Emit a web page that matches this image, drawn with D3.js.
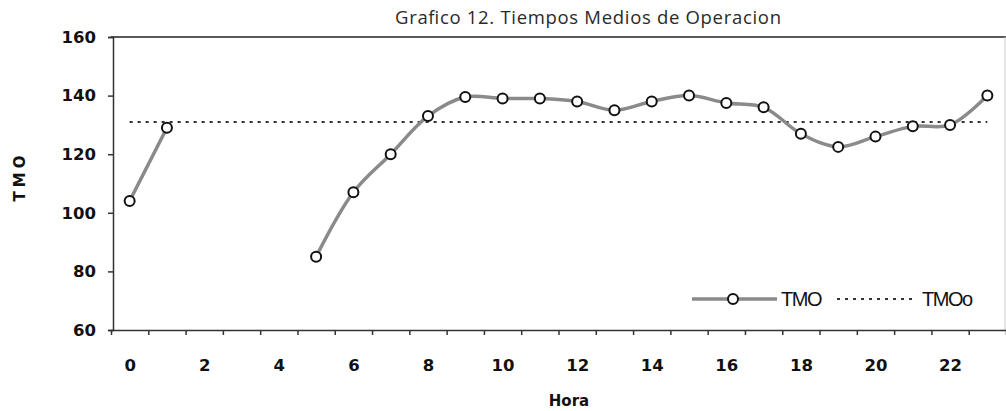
<!DOCTYPE html>
<html>
<head>
<meta charset="utf-8">
<script src="https://cdn.jsdelivr.net/npm/d3@7"></script>
<style>
  body { margin: 0; background: #fff; }
  svg { display: block; }
</style>
</head>
<body>
<div id="chart"></div>
<script>
const hours = [0, 1, 2, 3, 4, 5, 6, 7, 8, 9, 10, 11, 12, 13, 14, 15, 16, 17, 18, 19, 20, 21, 22, 23];
const tmo = [104, 129, null, null, null, 85, 107, 120, 133, 139.5, 139, 139, 138, 135, 138, 140, 137.5, 136, 127, 122.5, 126, 129.5, 130, 140];
const tmoObjetivo = 131;
const yTicks = [60, 80, 100, 120, 140, 160];
const xLabels = [0, 2, 4, 6, 8, 10, 12, 14, 16, 18, 20, 22];

const width = 1006, height = 411;
const margin = { top: 37, right: 0, bottom: 81, left: 111 };

const svg = d3.select('#chart').append('svg')
  .attr('width', width)
  .attr('height', height);

const x = d3.scaleLinear()
  .domain([-0.5, hours.length - 0.5])
  .range([margin.left, width - margin.right]);

const y = d3.scaleLinear()
  .domain([60, 160])
  .range([height - margin.bottom, margin.top]);

// title
svg.append('text')
  .attr('x', 588)
  .attr('y', 24)
  .attr('text-anchor', 'middle')
  .attr('font-family', 'Open Sans, DejaVu Sans, sans-serif')
  .attr('font-size', 18.5)
  .attr('textLength', 386)
  .attr('lengthAdjust', 'spacing')
  .attr('fill', '#2a2a2a')
  .text('Grafico 12. Tiempos Medios de Operacion');

// frame: top line and right edge
svg.append('line')
  .attr('x1', margin.left).attr('x2', width)
  .attr('y1', y(160)).attr('y2', y(160))
  .attr('stroke', '#222').attr('stroke-width', 1.5);
svg.append('line')
  .attr('x1', width - 1).attr('x2', width - 1)
  .attr('y1', y(160)).attr('y2', y(60))
  .attr('stroke', '#ccc').attr('stroke-width', 1);

// y axis
svg.append('g')
  .attr('transform', `translate(${margin.left + 2},0)`)
  .call(d3.axisLeft(y).tickValues(yTicks).tickSize(5).tickPadding(12))
  .call(g => g.selectAll('path, line').attr('stroke', '#333').attr('stroke-width', 1.5))
  .call(g => g.selectAll('text')
    .attr('font-family', 'DejaVu Sans, sans-serif')
    .attr('font-weight', 'bold')
    .attr('font-size', 16.5)
    .attr('fill', '#111'));

// x axis: ticks on category boundaries
svg.append('g')
  .attr('transform', `translate(0,${y(60)})`)
  .call(d3.axisBottom(x)
    .tickValues(d3.range(-0.5, hours.length, 1))
    .tickFormat('')
    .tickSize(5)
    .tickSizeOuter(0))
  .call(g => g.selectAll('path, line').attr('stroke', '#333').attr('stroke-width', 1.5));

svg.append('g')
  .attr('transform', `translate(0,${y(60)})`)
  .call(d3.axisBottom(x).tickValues(xLabels).tickSize(0).tickPadding(29))
  .call(g => g.select('.domain').remove())
  .call(g => g.selectAll('text')
    .attr('font-family', 'DejaVu Sans, sans-serif')
    .attr('font-weight', 'bold')
    .attr('font-size', 16.5)
    .attr('fill', '#111'));

// axis titles
svg.append('text')
  .attr('transform', `translate(25,${(y(60) + y(160)) / 2 - 7}) rotate(-90)`)
  .attr('text-anchor', 'middle')
  .attr('font-family', 'DejaVu Sans, sans-serif')
  .attr('font-weight', 'bold')
  .attr('font-size', 15)
  .attr('letter-spacing', 4)
  .attr('fill', '#111')
  .text('TMO');

svg.append('text')
  .attr('x', 569)
  .attr('y', 406)
  .attr('text-anchor', 'middle')
  .attr('font-family', 'DejaVu Sans, sans-serif')
  .attr('font-weight', 'bold')
  .attr('font-size', 15)
  .attr('fill', '#111')
  .text('Hora');

// objective line
svg.append('line')
  .attr('x1', x(0)).attr('x2', x(23))
  .attr('y1', y(tmoObjetivo)).attr('y2', y(tmoObjetivo))
  .attr('stroke', '#333')
  .attr('stroke-width', 2)
  .attr('stroke-dasharray', '3,5');

// TMO series
const points = hours.map((h, i) => ({ h, v: tmo[i] }));

const line = d3.line()
  .defined(d => d.v != null)
  .x(d => x(d.h))
  .y(d => y(d.v))
  .curve(d3.curveCatmullRom.alpha(0.5));

svg.append('path')
  .datum(points)
  .attr('d', line)
  .attr('fill', 'none')
  .attr('stroke', '#8a8a8a')
  .attr('stroke-width', 3.5);

svg.append('g')
  .selectAll('circle')
  .data(points.filter(d => d.v != null))
  .join('circle')
  .attr('cx', d => x(d.h))
  .attr('cy', d => y(d.v))
  .attr('r', 5)
  .attr('fill', '#fff')
  .attr('stroke', '#111')
  .attr('stroke-width', 2);

// legend
const legend = svg.append('g').attr('transform', 'translate(692,299)');
legend.append('line')
  .attr('x1', 0).attr('x2', 85)
  .attr('stroke', '#8a8a8a').attr('stroke-width', 3.5);
legend.append('circle')
  .attr('cx', 41).attr('r', 5)
  .attr('fill', '#fff').attr('stroke', '#111').attr('stroke-width', 2);
legend.append('text')
  .attr('x', 89).attr('y', 7)
  .attr('font-family', 'Liberation Sans, sans-serif')
  .attr('font-size', 20)
  .attr('letter-spacing', -1.5)
  .attr('fill', '#111')
  .text('TMO');
legend.append('line')
  .attr('x1', 145).attr('x2', 222)
  .attr('stroke', '#333').attr('stroke-width', 2)
  .attr('stroke-dasharray', '3,5');
legend.append('text')
  .attr('x', 230).attr('y', 7)
  .attr('font-family', 'Liberation Sans, sans-serif')
  .attr('font-size', 20)
  .attr('letter-spacing', -1.5)
  .attr('fill', '#111')
  .text('TMOo');
</script>
</body>
</html>
